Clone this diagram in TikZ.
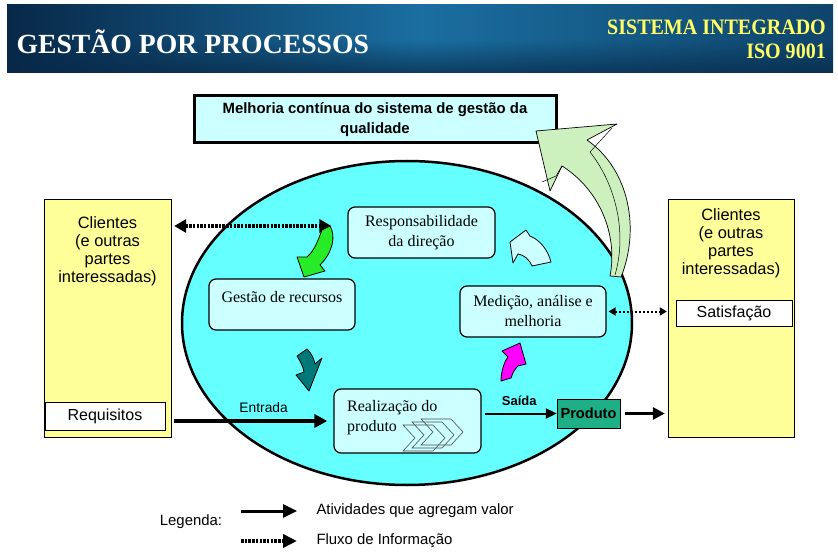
\documentclass[tikz,border=0pt]{standalone}
\usepackage{fontspec}
\setmainfont{Liberation Serif}
\setsansfont{Liberation Sans}
\usetikzlibrary{positioning,arrows.meta,fadings}

\definecolor{bannermid}{RGB}{26,110,160}
\definecolor{bannerdk}{RGB}{8,40,72}
\definecolor{isoyellow}{RGB}{255,255,102}
\definecolor{cliyellow}{RGB}{255,255,153}
\definecolor{ovalcyan}{RGB}{102,255,255}
\definecolor{boxcyan}{RGB}{204,255,255}
\definecolor{prodgreen}{RGB}{30,175,135}
\definecolor{arrgreen}{RGB}{40,235,40}
\definecolor{arrteal}{RGB}{0,120,120}
\definecolor{arrmag}{RGB}{255,0,255}
\definecolor{bigarr}{RGB}{204,240,190}

\begin{document}
\begin{tikzpicture}[x=1pt,y=-1pt]
\tikzset{
  procbox/.style={draw,line width=1.2pt,rounded corners=7pt,fill=boxcyan,minimum width=146pt,minimum height=51pt,align=center,font=\fontsize{16}{20}\selectfont},
  clibox/.style={draw,fill=cliyellow,minimum width=127pt,minimum height=238pt},
  clitext/.style={align=center,inner sep=0pt,font=\sffamily\fontsize{16.4}{17.8}\selectfont},
  smallbox/.style={draw,fill=white,inner sep=0pt,font=\sffamily\fontsize{16}{18}\selectfont},
  valuearrow/.style={line width=3.5pt,-{Triangle[length=13pt,width=13pt]}},
  infoarrow/.style={line width=3.5pt,dash pattern=on 2.5pt off 1.2pt,{Triangle[length=12pt,width=13pt]}-{Triangle[length=12pt,width=13pt]}},
  thininfo/.style={line width=2pt,dash pattern=on 2pt off 2pt,{Triangle[length=7pt,width=8pt]}-{Triangle[length=7pt,width=8pt]}},
  blockarr/.style={draw,line width=0.8pt,line join=round},
  legtext/.style={anchor=west,font=\sffamily\fontsize{14.9}{17}\selectfont}
}
\useasboundingbox (0,0) rectangle (838,556);

\shade[left color=bannerdk,right color=bannerdk!60!bannermid,middle color=bannermid] (7,5) rectangle (833,73);
\fill[bannerdk,path fading=north,opacity=0.7] (7,40) rectangle (833,73);
\node[anchor=west,text=white,font=\bfseries\fontsize{27.7}{30}\selectfont] (title) at (13,42) {GESTÃO POR PROCESSOS};
\node[anchor=north east,align=right,inner sep=0pt,text=isoyellow,font=\bfseries\fontsize{22}{24}\selectfont] (iso) at (826,20) {\scalebox{0.91}[1]{SISTEMA INTEGRADO}\\\scalebox{0.91}[1]{ISO 9001}};

\node[draw,line width=3pt,fill=boxcyan,minimum width=362pt,minimum height=47pt,align=center,font=\sffamily\bfseries\fontsize{14.9}{20}\selectfont] (cont) at (375,119.5) {Melhoria contínua do sistema de gestão da\\qualidade};

\draw[line width=2.5pt,fill=ovalcyan] (407,323) ellipse [x radius=225pt,y radius=162pt];

\node[clibox] (cliL) at (107.5,318) {};
\node[clitext,below=18pt of cliL.north] (cliLtext) {Clientes\\(e outras\\partes\\interessadas)};
\node[smallbox,minimum width=120pt,minimum height=28pt] (req) at (105,416) {Requisitos};

\node[clibox,minimum width=126pt] (cliR) at (731,318) {};
\node[clitext,below=10pt of cliR.north] (cliRtext) {Clientes\\(e outras\\partes\\interessadas)};
\node[smallbox,minimum width=116pt,minimum height=26pt] (sat) at (734,313) {Satisfação};

\node[procbox,minimum width=147pt] (resp) at (421.5,232.5) {Responsabilidade\\da direção};
\node[procbox] (gest) at (282,304.5) {Gestão de recursos\\[-5pt]\mbox{}};
\node[procbox] (med) at (533,311.5) {Medição, análise e\\melhoria};
\node[procbox,minimum width=147pt,minimum height=64pt] (real) at (407.5,421) {};
\node[anchor=north west,align=left,inner sep=0pt,font=\fontsize{16}{20}\selectfont] (realtext) at (347,400) {Realização do\\produto};
\foreach \dx/\dy in {0/6,9/3,18/0}
  \draw[gray!60!black,line width=0.6pt] (403+\dx,419+\dy) -- ++(30,0) -- ++(12,13) -- ++(-12,13) -- ++(-30,0) -- ++(12,-13) -- cycle;

\node[draw,fill=prodgreen,minimum width=63pt,minimum height=29pt,inner sep=0pt,font=\sffamily\bfseries\fontsize{14.6}{16}\selectfont] (prod) at (588.5,413.5) {Produto};

\coordinate (infoy) at (0,226);
\draw[infoarrow,shorten <=3pt,shorten >=16pt] (cliL.east |- infoy) -- (resp.west |- infoy);
\draw[thininfo,shorten <=2pt,shorten >=1pt] (med.east) -- (cliR.west |- med.east);
\draw[valuearrow,shorten <=3pt,shorten >=6pt] (cliL.east |- real.west) -- node[above=3pt,pos=0.57,font=\sffamily\fontsize{13.8}{15}\selectfont] {Entrada} (real.west);
\draw[line width=2pt,-{Triangle[length=11pt,width=10pt]},shorten <=3pt] (real.east |- prod.west) -- node[above=4pt,font=\sffamily\bfseries\fontsize{13}{15}\selectfont] {Saída} (prod.west);
\draw[line width=3pt,-{Triangle[length=12pt,width=12pt]},shorten <=5pt,shorten >=3pt] (prod.east) -- (cliR.west |- prod.east);

\path[blockarr,fill=arrgreen] (322,230) -- (330,226) .. controls (336,236) and (333,252) .. (320,265) -- (325,271) -- (304,277) -- (297,257) -- (307,257) .. controls (315,250) and (318,240) .. cycle;
\path[blockarr,fill=arrteal] (297,356) -- (307,349) .. controls (312,354) and (314,359) .. (315,364) -- (322,358) -- (309,391) -- (296,375) -- (304,372) .. controls (303,366) and (300,361) .. cycle;
\path[blockarr,fill=arrmag] (501,381) -- (511,378) .. controls (513,372) and (515,369) .. (518,366) -- (526,364) -- (520,343) -- (502,351) -- (508,357) .. controls (504,362) and (501,372) .. cycle;
\path[blockarr,fill=boxcyan] (532,266) -- (551,262) .. controls (548,250) and (540,240) .. (530,236) -- (526,230) -- (510,242) -- (513,263) -- (518,254) .. controls (524,255) and (529,259) .. cycle;
\path[blockarr,fill=bigarr,line width=0.7pt] (610,276) .. controls (618,235) and (600,190) .. (562,166) -- (550,191) -- (536,131) -- (617,124) -- (587,140) .. controls (630,170) and (640,230) .. (621,277) -- cycle;
\draw[line width=0.5pt] (615,275) .. controls (628,230) and (614,182) .. (590,152) -- (612,128);
\draw[line width=0.5pt] (542,182) -- (556,176) -- (562,166);

\node[legtext] (legval) at (313,511) {Atividades que agregam valor};
\node[legtext] (leginfo) at (313,541) {Fluxo de Informação};
\node[legtext,anchor=center] (leg) at (191,522) {Legenda:};
\draw[line width=3pt,-{Triangle[length=14pt,width=13pt]}] ([xshift=-72pt]legval.west) -- ([xshift=-16pt]legval.west);
\draw[line width=3.5pt,dash pattern=on 2.5pt off 1.2pt,-{Triangle[length=14pt,width=13pt]}] ([xshift=-72pt]leginfo.west) -- ([xshift=-16pt]leginfo.west);
\end{tikzpicture}
\end{document}
